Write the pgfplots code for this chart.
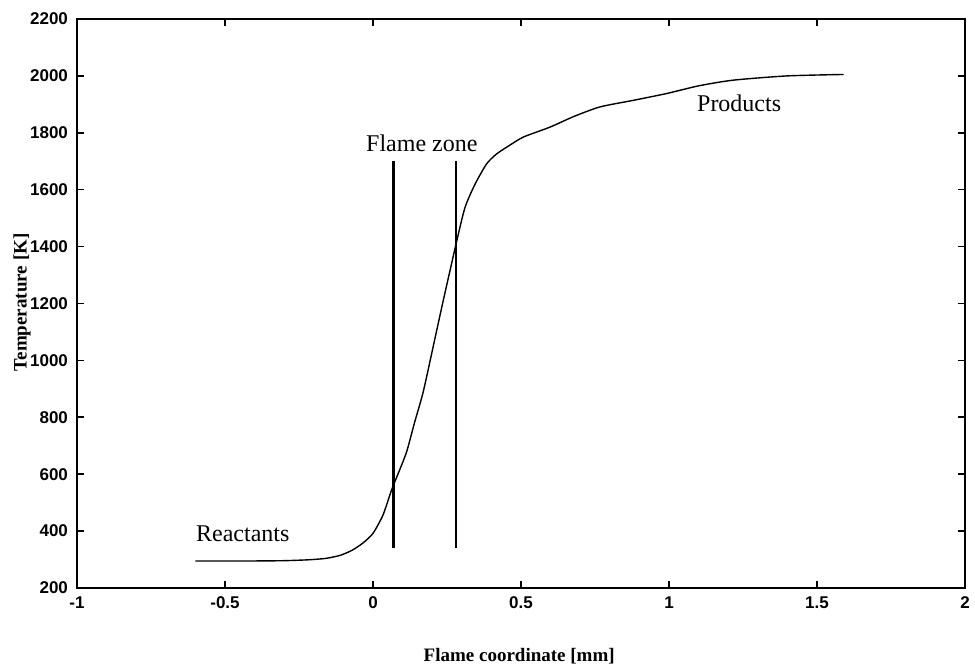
\documentclass[border=0pt]{standalone}
\usepackage{pgfplots}
\pgfplotsset{compat=1.18}
\usepackage{fontspec}
\setmainfont{Liberation Serif}
\newfontfamily\ticksfont{Liberation Sans}
\begin{document}
\begin{tikzpicture}[x=1pt,y=1pt]
\useasboundingbox (0,0) rectangle (487.5,336);
\begin{axis}[
  at={(38.5pt,42pt)}, anchor=south west,
  scale only axis, width=444pt, height=284.5pt,
  xmin=-1, xmax=2, ymin=200, ymax=2200,
  xtick={-1,-0.5,0,0.5,1,1.5,2},
  xticklabels={-1,-0.5,0,0.5,1,1.5,2},
  ytick={200,400,...,2200},
  yticklabels={200,400,600,800,1000,1200,1400,1600,1800,2000,2200},
  tick align=inside, major tick length=3.5pt,
  tick style={line width=0.8pt,black},
  axis line style={line width=1pt},
  tick label style={font=\ticksfont\bfseries\fontsize{8.5}{9}\selectfont},
  yticklabel style={xshift=-1pt},
  xticklabel style={yshift=-1pt},
  scaled ticks=false,
  /pgf/number format/1000 sep={},
  /pgf/number format/assume math mode=true,
  xlabel={Flame coordinate [mm]},
  ylabel={Temperature [K]},
  xlabel style={font=\bfseries\fontsize{9.5}{10}\selectfont, at={(axis description cs:0.498,-0.12)}, anchor=center},
  ylabel style={font=\bfseries\fontsize{9.5}{10}\selectfont, at={(axis description cs:-0.062,0.502)}, anchor=center},
  clip=false,
]
\addplot[black, line width=0.7pt, smooth, tension=0.4] coordinates {
(-0.6,295) (-0.5,295) (-0.4,295) (-0.3,296) (-0.22,299) (-0.16,304)
(-0.11,315) (-0.07,333) (-0.034,358) (0.0,392) (0.034,457) (0.063,545) (0.09,615)
(0.114,680) (0.14,780) (0.17,891) (0.212,1090) (0.237,1209) (0.26,1315)
(0.283,1420) (0.311,1538) (0.345,1620) (0.384,1691) (0.418,1726)
(0.46,1755) (0.508,1785) (0.598,1820) (0.68,1858) (0.767,1891) (0.879,1914)
(0.992,1938) (1.1,1965) (1.217,1985) (1.4,2000) (1.59,2005)
};
\addplot[black, line width=1.3pt] coordinates {(0.07,340) (0.07,1700)};
\addplot[black, line width=1.3pt] coordinates {(0.28,340) (0.28,1700)};
\node[font=\fontsize{12}{14}\selectfont] at (axis cs:0.165,1763) {Flame zone};
\node[font=\fontsize{12}{14}\selectfont] at (axis cs:-0.44,392) {Reactants};
\node[font=\fontsize{12}{14}\selectfont] at (axis cs:1.237,1903) {Products};
\end{axis}
\end{tikzpicture}
\end{document}
